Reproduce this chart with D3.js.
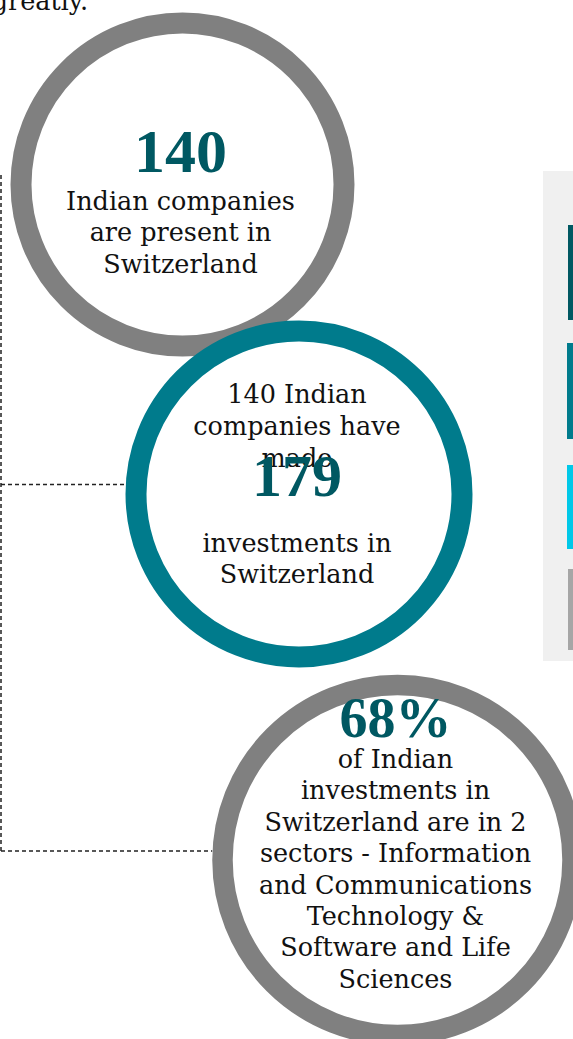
<!DOCTYPE html>
<html>
<head>
<meta charset="utf-8">
<script src="https://cdn.jsdelivr.net/npm/d3@7"></script>
<style>
  body { margin: 0; background: #fff; }
  svg { display: block; }
  .caption { font-family: "DejaVu Serif", serif; fill: #111; }
  .big { font-family: "Liberation Serif", serif; font-weight: bold; fill: #005862; }
</style>
</head>
<body>
<div id="chart"></div>
<script>
//*********************** DATA ***********************
var bigNumbers = ["140", "179", "68%"];
var captionsAbove = [
  [],
  ["140 Indian", "companies have", "made"],
  []
];
var captionsBelow = [
  ["Indian companies", "are present in", "Switzerland"],
  ["investments in", "Switzerland"],
  ["of Indian", "investments in", "Switzerland are in 2", "sectors - Information",
   "and Communications", "Technology &", "Software and Life", "Sciences"]
];
var legendKeys = ["dark", "teal", "cyan", "grey"];
var introTail = "greatly.";

//*********************** LAYOUT ***********************
var width = 573,
    height = 1039,
    ringColors = ["#808080", "#007b8c", "#808080"],
    legendColor = d3.scaleOrdinal().domain(legendKeys)
      .range(["#005862", "#007b8c", "#00c8e8", "#a6a6a6"]);

var circles = [
  {cx: 182.5, cy: 184.5, r: 161.5, sw: 21, numY: 172, numSize: 62, belowY: 210, aboveY: 0},
  {cx: 299,   cy: 494,   r: 163,   sw: 21, numY: 496, numSize: 60, belowY: 552, aboveY: 403},
  {cx: 397.5, cy: 860,   r: 175,   sw: 20.5, numY: 737, numSize: 56, belowY: 768, aboveY: 0}
];
var lineH = 31.4,
    capSize = "25.5px";

var svg = d3.select("#chart").append("svg")
    .attr("width", width)
    .attr("height", height);

// cut-off sentence from above
svg.append("text")
    .attr("class", "caption")
    .attr("x", 88)
    .attr("y", 10)
    .attr("text-anchor", "end")
    .style("font-size", "25.5px")
    .text(introTail);

// dashed connectors
var dash = svg.append("g")
    .attr("fill", "none")
    .attr("stroke", "#222")
    .attr("stroke-width", 1.5)
    .attr("stroke-dasharray", "4,3");

dash.append("line").attr("x1", 1).attr("y1", 175).attr("x2", 1).attr("y2", 851);
dash.append("line").attr("x1", 1).attr("y1", 484.5)
    .attr("x2", circles[1].cx - circles[1].r - circles[1].sw / 2).attr("y2", 484.5);
dash.append("line").attr("x1", 1).attr("y1", 851)
    .attr("x2", circles[2].cx - circles[2].r - circles[2].sw / 2).attr("y2", 851);

// legend panel on the right (mostly cut off)
svg.append("rect")
    .attr("x", 543)
    .attr("y", 171)
    .attr("width", 40)
    .attr("height", 490)
    .attr("fill", "#f0f0f0");

var legendRows = [[225, 320], [343, 439], [465, 549], [569, 650]];
svg.selectAll(".legendBar")
    .data(legendKeys)
    .enter()
    .append("rect")
    .attr("class", "legendBar")
    .attr("x", function(d, i) { return i === 0 || i === 3 ? 568 : 567; })
    .attr("y", function(d, i) { return legendRows[i][0]; })
    .attr("width", 10)
    .attr("height", function(d, i) { return legendRows[i][1] - legendRows[i][0]; })
    .attr("fill", function(d) { return legendColor(d); });

// circles with texts
var groups = svg.selectAll(".stat")
    .data(bigNumbers)
    .enter()
    .append("g")
    .attr("class", "stat");

groups.append("circle")
    .attr("cx", function(d, i) { return circles[i].cx; })
    .attr("cy", function(d, i) { return circles[i].cy; })
    .attr("r", function(d, i) { return circles[i].r; })
    .attr("fill", "#fff")
    .attr("stroke", function(d, i) { return ringColors[i]; })
    .attr("stroke-width", function(d, i) { return circles[i].sw; });

groups.each(function(d, i) {
  var g = d3.select(this), c = circles[i];
  captionsAbove[i].forEach(function(t, k) {
    g.append("text")
      .attr("class", "caption")
      .attr("x", c.cx - 2)
      .attr("y", c.aboveY + k * 32)
      .attr("text-anchor", "middle")
      .style("font-size", capSize)
      .text(t);
  });
  g.append("text")
    .attr("class", "big")
    .attr("x", c.cx - 2)
    .attr("y", c.numY)
    .attr("text-anchor", "middle")
    .style("font-size", c.numSize + "px")
    .text(d);
  captionsBelow[i].forEach(function(t, k) {
    g.append("text")
      .attr("class", "caption")
      .attr("x", c.cx - 2)
      .attr("y", c.belowY + k * lineH)
      .attr("text-anchor", "middle")
      .style("font-size", capSize)
      .text(t);
  });
});
</script>
</body>
</html>
